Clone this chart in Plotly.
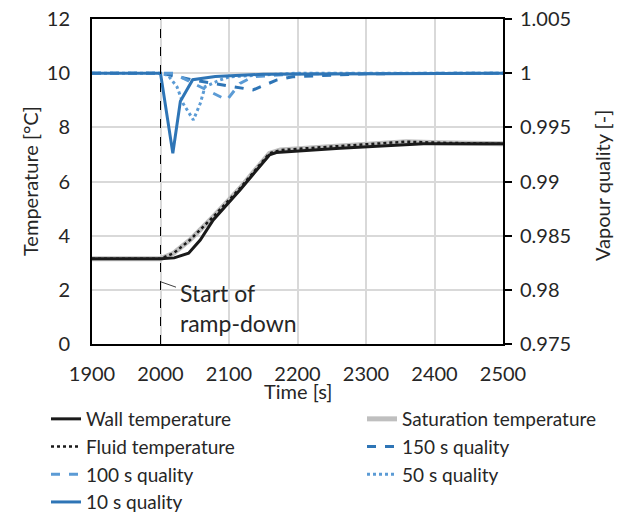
import plotly.graph_objects as go

# ---- data ----
x_ticks = [1900, 2000, 2100, 2200, 2300, 2400, 2500]
y_ticks = [0, 2, 4, 6, 8, 10, 12]
y2_ticks = [0.975, 0.98, 0.985, 0.99, 0.995, 1.0, 1.005]
y2_ticktext = ["0.975", "0.98", "0.985", "0.99", "0.995", "1", "1.005"]

wall_t = [1900, 2000, 2020, 2041, 2058, 2077, 2116, 2159, 2169, 2262, 2384, 2500]
wall_T = [3.15, 3.15, 3.18, 3.35, 3.84, 4.58, 5.69, 6.98, 7.07, 7.23, 7.39, 7.39]

sat_t = [1900, 2000, 2019, 2043, 2077, 2116, 2159, 2175, 2262, 2359, 2408, 2500]
sat_T = [3.15, 3.15, 3.35, 3.84, 4.70, 5.75, 7.04, 7.16, 7.31, 7.47, 7.43, 7.39]

fluid_t = [1900, 2000, 2019, 2043, 2077, 2116, 2159, 2175, 2262, 2359, 2408, 2500]
fluid_T = [3.15, 3.15, 3.35, 3.84, 4.70, 5.75, 7.04, 7.16, 7.31, 7.47, 7.43, 7.39]

q150_t = [1900, 2000, 2048, 2092, 2135, 2170, 2193, 2300, 2500]
q150 = [1.0, 1.0, 0.99937, 0.99891, 0.99845, 0.99937, 0.99967, 0.99995, 1.0]

q100_t = [1900, 2000, 2019, 2048, 2067, 2097, 2116, 2135, 2200, 2500]
q100 = [1.0, 1.0, 0.99999, 0.99906, 0.99845, 0.99752, 0.99906, 0.99967, 0.99995, 1.0]

q50_t = [1900, 2000, 2011, 2024, 2033, 2048, 2058, 2065, 2087, 2101, 2200, 2500]
q50 = [1.0, 1.0, 0.9998, 0.99875, 0.9972, 0.99568, 0.9972, 0.99875, 0.99937, 0.99967, 1.0, 1.0]

q10_t = [1900, 2000, 2018, 2029, 2047, 2080, 2150, 2500]
q10 = [1.0, 1.0, 0.9926, 0.9974, 0.9994, 0.9997, 0.9999, 1.0]

ramp_time = 2000

FONT = "Lato"
TXT = "#262626"
DARK_BLUE = "#2E75B6"
LIGHT_BLUE = "#5B9BD5"

fig = go.Figure()

fig.add_trace(go.Scatter(x=sat_t, y=sat_T, mode="lines", name="Saturation temperature",
                         line=dict(color="#bfbfbf", width=5), legend="legend2", legendrank=1))
fig.add_trace(go.Scatter(x=wall_t, y=wall_T, mode="lines", name="Wall temperature",
                         line=dict(color="#1a1a1a", width=3), legend="legend", legendrank=1))
fig.add_trace(go.Scatter(x=fluid_t, y=fluid_T, mode="lines", name="Fluid temperature",
                         line=dict(color="#1a1a1a", width=2.5, dash="dot"), legend="legend", legendrank=2))
fig.add_trace(go.Scatter(x=q150_t, y=q150, mode="lines", name="150 s quality", yaxis="y2",
                         line=dict(color=DARK_BLUE, width=3, dash="dash"), legend="legend2", legendrank=2))
fig.add_trace(go.Scatter(x=q100_t, y=q100, mode="lines", name="100 s quality", yaxis="y2",
                         line=dict(color=LIGHT_BLUE, width=3, dash="dash"), legend="legend", legendrank=3))
fig.add_trace(go.Scatter(x=q50_t, y=q50, mode="lines", name="50 s quality", yaxis="y2",
                         line=dict(color=LIGHT_BLUE, width=3, dash="dot"), legend="legend2", legendrank=3))
fig.add_trace(go.Scatter(x=q10_t, y=q10, mode="lines", name="10 s quality", yaxis="y2",
                         line=dict(color=DARK_BLUE, width=3), legend="legend", legendrank=4))

fig.add_shape(type="line", x0=ramp_time, x1=ramp_time, y0=0, y1=1, xref="x", yref="paper",
              line=dict(color="black", width=1, dash="dash"))

fig.add_annotation(x=ramp_time, y=2.3, xref="x", yref="y", text="", showarrow=True,
                   arrowhead=0, arrowwidth=1, arrowcolor="#404040", ax=17, ay=6)
fig.add_annotation(x=2026, y=1.32, xref="x", yref="y", text="Start of<br>ramp-down",
                   showarrow=False, xanchor="left", yanchor="middle", align="left",
                   font=dict(family=FONT, size=23, color=TXT))

# axis titles
fig.add_annotation(x=0.5, y=(344 - 391) / 325, xref="paper", yref="paper", text="Time [s]",
                   showarrow=False, xanchor="center", yanchor="middle",
                   font=dict(family=FONT, size=20, color=TXT))
fig.add_annotation(x=(30 - 92) / 411, y=(344 - 181) / 325, xref="paper", yref="paper",
                   text="Temperature [°C]", showarrow=False, textangle=-90,
                   xanchor="center", yanchor="middle",
                   font=dict(family=FONT, size=20, color=TXT))
fig.add_annotation(x=(602 - 92) / 411, y=(344 - 186) / 325, xref="paper", yref="paper",
                   text="Vapour quality [-]", showarrow=False, textangle=-90,
                   xanchor="center", yanchor="middle",
                   font=dict(family=FONT, size=20, color=TXT))

legend_common = dict(orientation="v", xref="container", yref="container",
                     xanchor="left", yanchor="top", bgcolor="rgba(0,0,0,0)",
                     font=dict(family=FONT, size=19, color=TXT), tracegroupgap=0)

fig.update_layout(
    width=629, height=515,
    margin=dict(l=92, r=126, t=19, b=171, autoexpand=False),
    paper_bgcolor="white", plot_bgcolor="white",
    font=dict(family=FONT, size=20, color=TXT),
    showlegend=True,
    legend=dict(x=46 / 629, y=1 - 400 / 515, **legend_common),
    legend2=dict(x=362 / 629, y=1 - 400 / 515, **legend_common),
    xaxis=dict(range=[1900, 2500], tickvals=x_ticks, showgrid=True, gridcolor="#d9d9d9",
               gridwidth=1.5, zeroline=False, showline=True, linecolor="black", linewidth=2,
               mirror=True, ticks="", ticklabelstandoff=11, automargin=False,
               tickfont=dict(family=FONT, size=20, color=TXT)),
    yaxis=dict(range=[0, 12], tickvals=y_ticks, showgrid=True, gridcolor="#d9d9d9",
               gridwidth=1.5, zeroline=False, showline=True, linecolor="black", linewidth=2,
               ticks="", ticklabelstandoff=16, automargin=False,
               tickfont=dict(family=FONT, size=20, color=TXT)),
    yaxis2=dict(range=[0.975, 1.005], tickvals=y2_ticks, ticktext=y2_ticktext,
                overlaying="y", side="right", showgrid=False, zeroline=False,
                showline=True, linecolor="black", linewidth=2, automargin=False,
                ticks="outside", ticklen=7, tickwidth=1.5, tickcolor="black",
                ticklabelstandoff=4,
                tickfont=dict(family=FONT, size=20, color=TXT)),
)

fig.write_html("out.html")
